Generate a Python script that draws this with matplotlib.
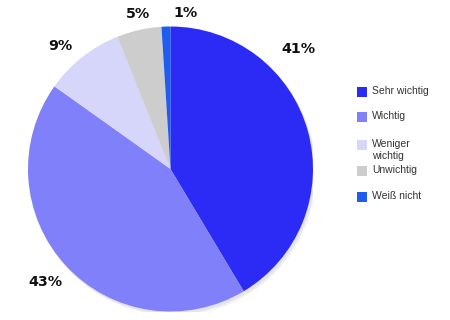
import numpy as np
import matplotlib
matplotlib.use("Agg")
import matplotlib.pyplot as plt
from matplotlib.patches import Circle, Rectangle

categories = ["Sehr wichtig", "Wichtig", "Weniger\nwichtig", "Unwichtig", "Weiß nicht"]
values = [41, 43, 9, 5, 1]
pct_labels = ["41%", "43%", "9%", "5%", "1%"]
colors = ["#2b2bf5", "#8080fa", "#d6d6fb", "#cdcdcd", "#1f5cf0"]

# layout: label polar positions (deg, radius factor)
label_pos = [(43, 1.23), (222, 1.18), (132, 1.16), (102, 1.11), (84.5, 1.10)]
# legend square centre y positions (pixels from top)
legend_y = [92, 117, 145, 171, 197]

W, H = 450, 320
fig = plt.figure(figsize=(4.5, 3.2), dpi=100)
cx, cy, r = 170.5, 169, 142.5
ax = fig.add_axes([(cx - r) / W, (H - cy - r) / H, 2 * r / W, 2 * r / H])
ax.set_xlim(-1, 1)
ax.set_ylim(-1, 1)
ax.set_aspect("equal")
ax.axis("off")

# soft shadow
for k, a in enumerate([0.10, 0.08, 0.06]):
    ax.add_patch(Circle((0.012 + 0.006 * k, -0.018 - 0.006 * k), 1.0,
                        color="#8888aa", alpha=a, lw=0, zorder=0))

ax.pie(values, colors=colors, startangle=90, counterclock=False, radius=1.0,
       wedgeprops=dict(linewidth=0), frame=False)
ax.set_xlim(-1, 1)
ax.set_ylim(-1, 1)

for lab, (ang, rf) in zip(pct_labels, label_pos):
    t = np.deg2rad(ang)
    ax.text(rf * np.cos(t), rf * np.sin(t), lab, ha="center", va="center",
            fontsize=10.3, fontweight="bold", color="#111111",
            family="DejaVu Sans", clip_on=False)

for cat, col, yc in zip(categories, colors, legend_y):
    fig.patches.append(Rectangle((357 / W, 1 - (yc + 5) / H), 10 / W, 10 / H,
                                 transform=fig.transFigure, color=col, lw=0))
    fig.text(372 / W, 1 - (yc - 6) / H, cat, ha="left", va="top",
             fontsize=7.5, family="Liberation Sans", color="#333333",
             linespacing=1.3)

fig.savefig("out.png", dpi=100, facecolor="white")
